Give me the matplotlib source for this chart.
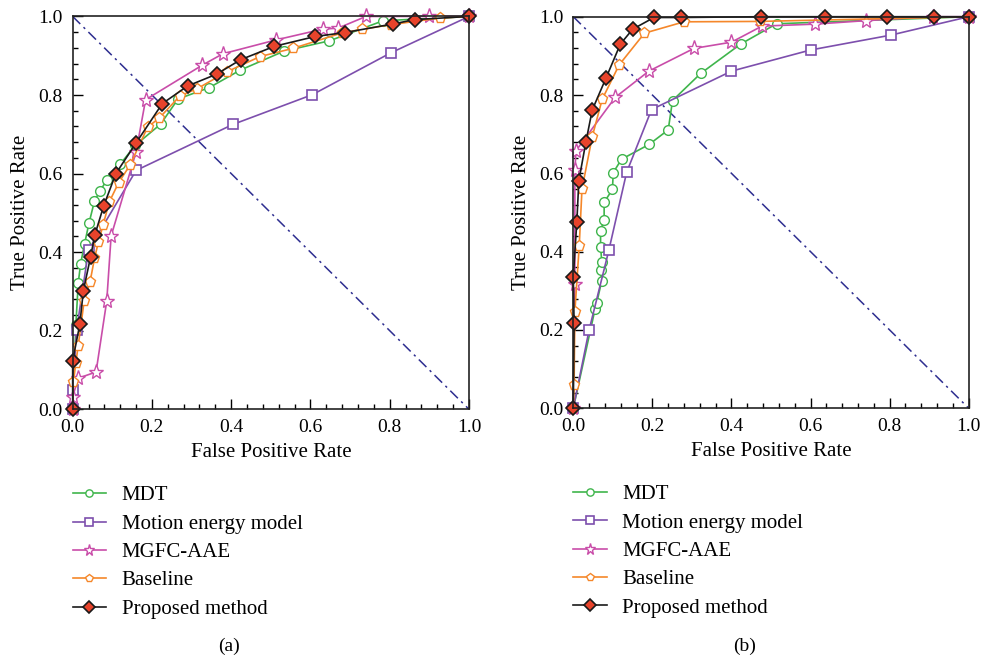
import numpy as np
import matplotlib
matplotlib.use("Agg")
import matplotlib.pyplot as plt
from matplotlib.ticker import MultipleLocator

plt.rcParams['font.family'] = ['Liberation Serif', 'DejaVu Serif']

# ---- data, panel (a) ----
mdt_a_x = [0, 0.008, 0.014, 0.02, 0.03, 0.041, 0.055, 0.069, 0.086, 0.12, 0.158, 0.222, 0.266, 0.345, 0.422, 0.534, 0.648, 0.783, 1.0]
mdt_a_y = [0, 0.214, 0.321, 0.37, 0.421, 0.473, 0.53, 0.556, 0.583, 0.624, 0.672, 0.726, 0.79, 0.819, 0.863, 0.912, 0.938, 0.989, 1.0]

mem_a_x = [0, 0.0, 0.01, 0.04, 0.16, 0.404, 0.605, 0.802, 1.0]
mem_a_y = [0, 0.049, 0.202, 0.405, 0.608, 0.725, 0.801, 0.907, 1.0]

mgfc_a_x = [0, 0.0, 0.014, 0.059, 0.086, 0.097, 0.16, 0.184, 0.327, 0.379, 0.512, 0.632, 0.669, 0.74, 0.9, 1.0]
mgfc_a_y = [0, 0.032, 0.079, 0.095, 0.276, 0.441, 0.655, 0.788, 0.876, 0.905, 0.94, 0.968, 0.97, 1.0, 1.0, 1.0]

base_a_x = [0, 0.002, 0.008, 0.014, 0.029, 0.044, 0.055, 0.065, 0.077, 0.092, 0.116, 0.145, 0.189, 0.219, 0.271, 0.314, 0.389, 0.473, 0.557, 0.679, 0.729, 0.802, 0.926, 1.0]
base_a_y = [0, 0.07, 0.119, 0.162, 0.276, 0.325, 0.384, 0.426, 0.47, 0.527, 0.577, 0.622, 0.718, 0.742, 0.798, 0.816, 0.859, 0.898, 0.919, 0.958, 0.967, 0.979, 0.996, 1.0]

prop_a_x = [0, 0.0, 0.018, 0.027, 0.045, 0.056, 0.078, 0.109, 0.16, 0.226, 0.29, 0.363, 0.424, 0.509, 0.612, 0.687, 0.809, 0.863, 1.0]
prop_a_y = [0, 0.124, 0.216, 0.302, 0.387, 0.444, 0.517, 0.6, 0.678, 0.778, 0.823, 0.853, 0.89, 0.924, 0.949, 0.959, 0.981, 0.992, 1.0]

# ---- data, panel (b) ----
mdt_b_x = [0, 0.055, 0.059, 0.072, 0.069, 0.072, 0.069, 0.069, 0.078, 0.078, 0.099, 0.101, 0.122, 0.192, 0.24, 0.251, 0.322, 0.423, 0.514, 1.0]
mdt_b_y = [0, 0.253, 0.268, 0.326, 0.353, 0.374, 0.413, 0.454, 0.481, 0.526, 0.559, 0.602, 0.636, 0.674, 0.711, 0.786, 0.855, 0.93, 0.982, 1.0]

mem_b_x = [0, 0.04, 0.09, 0.135, 0.198, 0.4, 0.6, 0.803, 1.0]
mem_b_y = [0, 0.2, 0.404, 0.603, 0.763, 0.861, 0.915, 0.953, 1.0]

mgfc_b_x = [0, 0.004, 0.004, 0.007, 0.106, 0.191, 0.305, 0.4, 0.477, 0.61, 0.74, 0.91, 1.0]
mgfc_b_y = [0, 0.318, 0.609, 0.658, 0.794, 0.861, 0.919, 0.935, 0.976, 0.981, 0.99, 1.0, 1.0]

base_b_x = [0, 0.002, 0.004, 0.015, 0.022, 0.048, 0.073, 0.116, 0.18, 0.28, 0.473, 1.0]
base_b_y = [0, 0.06, 0.247, 0.415, 0.56, 0.694, 0.789, 0.877, 0.958, 0.987, 0.988, 1.0]

prop_b_x = [0, 0.002, 0.0, 0.009, 0.014, 0.032, 0.048, 0.083, 0.119, 0.15, 0.204, 0.272, 0.474, 0.636, 0.794, 0.913, 1.0]
prop_b_y = [0, 0.217, 0.336, 0.477, 0.581, 0.681, 0.762, 0.844, 0.93, 0.968, 0.998, 0.998, 1.0, 1.0, 1.0, 1.0, 1.0]

labels = ['MDT', 'Motion energy model', 'MGFC-AAE', 'Baseline', 'Proposed method']

# colours / markers
green = '#3fb54c'
purple = '#7d4fad'
pink = '#c94da9'
orange = '#f5872a'
styles = [
    dict(color=green, marker='o', ms=7, mfc='white', mec=green, mew=1.0),
    dict(color=purple, marker='s', ms=7, mfc='white', mec=purple, mew=1.2),
    dict(color=pink, marker='*', ms=11, mfc='white', mec=pink, mew=1.0),
    dict(color=orange, marker='p', ms=8, mfc='white', mec=orange, mew=1.0),
    dict(color='#1a1a1a', marker='D', ms=7.5, mfc='#e8432b', mec='#1a1a1a', mew=1.2),
]

fig = plt.figure(figsize=(9.82, 6.58), dpi=100)
ax_a = fig.add_axes([0.074, 0.378, 0.4036, 0.597])
ax_b = fig.add_axes([0.5838, 0.3795, 0.4027, 0.5951])

panels = [
    (ax_a, [(mdt_a_x, mdt_a_y), (mem_a_x, mem_a_y), (mgfc_a_x, mgfc_a_y), (base_a_x, base_a_y), (prop_a_x, prop_a_y)]),
    (ax_b, [(mdt_b_x, mdt_b_y), (mem_b_x, mem_b_y), (mgfc_b_x, mgfc_b_y), (base_b_x, base_b_y), (prop_b_x, prop_b_y)]),
]

for ax, series in panels:
    ax.plot([0, 1], [1, 0], linestyle=(0, (7, 3, 1.5, 3)), color='#2e2e90', lw=1.1)
    for (xs, ys), st, lab in zip(series, styles, labels):
        ax.plot(xs, ys, lw=1.2, label=lab, clip_on=False, **st)
    ax.set_xlim(0, 1)
    ax.set_ylim(0, 1)
    ax.xaxis.set_major_locator(MultipleLocator(0.2))
    ax.yaxis.set_major_locator(MultipleLocator(0.2))
    ax.xaxis.set_minor_locator(MultipleLocator(0.04))
    ax.yaxis.set_minor_locator(MultipleLocator(0.04))
    ax.xaxis.set_major_formatter(matplotlib.ticker.FormatStrFormatter('%.1f'))
    ax.yaxis.set_major_formatter(matplotlib.ticker.FormatStrFormatter('%.1f'))
    ax.tick_params(which='both', direction='in', top=False, right=False, labelsize=14, width=1.0)
    ax.tick_params(which='major', length=7, pad=7)
    ax.tick_params(which='minor', length=3.5)
    for sp in ax.spines.values():
        sp.set_linewidth(1.2)
        sp.set_color('#222222')
    ax.set_xlabel('False Positive Rate', fontsize=15, labelpad=5)
    ax.set_ylabel('True Positive Rate', fontsize=15, labelpad=6)
    ax.legend(loc='upper left', bbox_to_anchor=(0.0, -0.195), frameon=False, fontsize=15,
              borderaxespad=0, borderpad=0, handlelength=1.6, handletextpad=0.75,
              labelspacing=0.42, markerscale=0.75)

fig.text(0.2335, 0.01, '(a)', fontsize=14, ha='center')
fig.text(0.758, 0.01, '(b)', fontsize=14, ha='center')

fig.savefig('out.png', dpi=100)
